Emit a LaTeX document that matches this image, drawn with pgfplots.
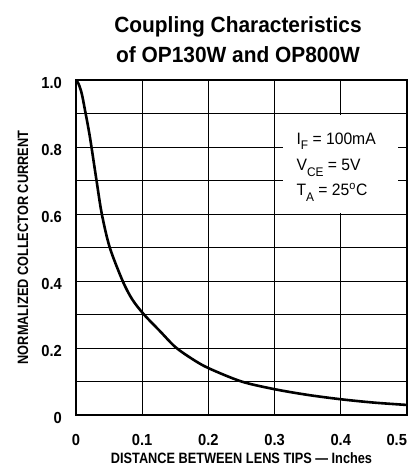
\documentclass[border=0pt]{standalone}
\usepackage{fontspec}
\setmainfont{Liberation Sans}
\newfontfamily\titlefont{Liberation Sans}[FakeStretch=0.95]
\newfontfamily\labfont{Liberation Sans}[FakeStretch=0.85]
\newfontfamily\annfont{Liberation Sans}[FakeStretch=0.95]
\newfontfamily\tickfont{Liberation Sans}[FakeStretch=0.92]
\usepackage{pgfplots}
\pgfplotsset{compat=1.18}
\begin{document}
\begin{tikzpicture}
\useasboundingbox (-76pt,-52pt) rectangle (343pt,415pt);
\begin{axis}[
  scale only axis,
  width=331pt, height=335pt,
  xmin=0, xmax=0.5, ymin=0, ymax=1,
  xtick={0,0.1,0.2,0.3,0.4,0.5},
  xticklabels={0,0.1,0.2,0.3,0.4,\makebox[0pt][r]{0.5}},
  ytick={0,0.2,0.4,0.6,0.8,1.0},
  yticklabels={0,0.2,0.4,0.6,0.8,1.0},
  minor ytick={0.1,0.3,0.5,0.7,0.9},
  grid=both,
  major grid style={black, line width=0.9pt},
  minor grid style={black, line width=0.9pt},
  major tick length=0pt, minor tick length=0pt,
  axis line style={black, line width=2.4pt},
  tick label style={font=\tickfont\fontsize{16}{16}\selectfont\bfseries},
  xticklabel style={anchor=base, yshift=-30.5pt, inner sep=0pt},
  yticklabel style={anchor=east, xshift=-14pt, yshift=-2.5pt, inner sep=0pt},
  xlabel={DISTANCE BETWEEN LENS TIPS — Inches},
  ylabel={NORMALIZED COLLECTOR CURRENT},
  xlabel style={font=\labfont\fontsize{15}{15}\selectfont\bfseries, at={(axis description cs:0.5,0)}, anchor=base, yshift=-48pt, inner sep=0pt},
  ylabel style={font=\labfont\fontsize{15}{15}\selectfont\bfseries, at={(axis description cs:-0.16,0.5)}, anchor=center, inner sep=0pt},
  clip=false,
]
\fill[white] (axis cs:0.313,0.603) rectangle (axis cs:0.487,0.897);
\addplot[black, line width=2.6pt, smooth, tension=0.5] coordinates {
(0,1.0) (0.004,0.988) (0.0086,0.96) (0.0136,0.91) (0.021,0.83) (0.031,0.70)
(0.039,0.60) (0.051,0.50) (0.0705,0.40) (0.085,0.345) (0.1027,0.30)
(0.127,0.25) (0.15,0.203) (0.175,0.168) (0.2,0.14) (0.25,0.10)
(0.3,0.077) (0.35,0.060) (0.4,0.047) (0.45,0.037) (0.5,0.030)
};
\node[anchor=base west, inner sep=0pt, font=\annfont\fontsize{16.5}{16.5}\selectfont] at (axis cs:0.333,0.808) {I\raisebox{-5.5pt}{\fontsize{12.5}{12.5}\selectfont F} = 100mA};
\node[anchor=base west, inner sep=0pt, font=\annfont\fontsize{16.5}{16.5}\selectfont] at (axis cs:0.333,0.729) {V\raisebox{-5.5pt}{\fontsize{12.5}{12.5}\selectfont CE} = 5V};
\node[anchor=base west, inner sep=0pt, font=\annfont\fontsize{16.5}{16.5}\selectfont] at (axis cs:0.333,0.654) {T\raisebox{-5.5pt}{\fontsize{12.5}{12.5}\selectfont A} = 25\textsuperscript{o}C};
\end{axis}
\node[anchor=base, inner sep=0pt, font=\titlefont\fontsize{22}{22}\selectfont\bfseries] at (162pt,382pt) {Coupling Characteristics};
\node[anchor=base, inner sep=0pt, font=\titlefont\fontsize{22}{22}\selectfont\bfseries] at (162pt,352.5pt) {of OP130W and OP800W};
\end{tikzpicture}
\end{document}
